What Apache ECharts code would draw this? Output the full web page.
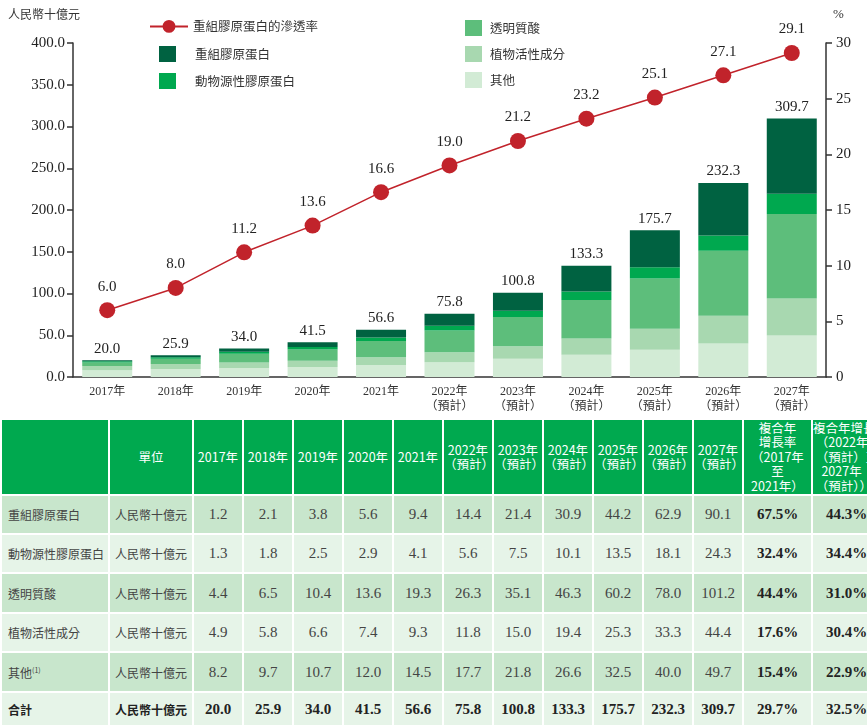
<!DOCTYPE html>
<html><head><meta charset="utf-8">
<script src="https://cdn.jsdelivr.net/npm/echarts@6/dist/echarts.min.js"></script>
<style>
html,body{margin:0;padding:0;background:#fff;width:867px;height:727px;overflow:hidden;}
#chart{position:absolute;left:0;top:0;width:867px;height:415px;}
#tblwrap{position:absolute;left:0;top:418px;width:867px;height:309px;overflow:hidden;}
table{border-collapse:collapse;table-layout:fixed;width:880px;}
td,th{border:2px solid #fff;padding:0;overflow:hidden;}
th{background:#00a94f;color:#fff;font-family:'Noto Sans CJK TC','Liberation Sans',sans-serif;font-weight:normal;font-size:12.5px;line-height:14.5px;height:74px;text-align:center;white-space:nowrap;}
td{font-family:'Liberation Serif','Noto Sans CJK TC',serif;font-size:15px;color:#444;text-align:center;white-space:nowrap;}
td.lab{font-family:'Noto Sans CJK TC',sans-serif;font-size:12px;text-align:left;padding-left:6px;color:#444;}
td.unit{font-family:'Noto Sans CJK TC',sans-serif;font-size:12px;color:#444;}
tr.odd td{background:#c8e6cc;}
tr.even td{background:#e6f4e8;}
td.b{font-weight:bold;color:#222;}
tr.tot td{font-weight:bold;color:#222;}
sup{font-size:7px;}
</style>
</head><body>
<div id="chart"></div>
<div id="tblwrap"><table id="tbl"></table></div>
<script>
const years = ['2017年','2018年','2019年','2020年','2021年','2022年\n（預計）','2023年\n（預計）','2024年\n（預計）','2025年\n（預計）','2026年\n（預計）','2027年\n（預計）'];
const recombinant = [1.2,2.1,3.8,5.6,9.4,14.4,21.4,30.9,44.2,62.9,90.1];
const animal = [1.3,1.8,2.5,2.9,4.1,5.6,7.5,10.1,13.5,18.1,24.3];
const hyaluronic = [4.4,6.5,10.4,13.6,19.3,26.3,35.1,46.3,60.2,78.0,101.2];
const botanical = [4.9,5.8,6.6,7.4,9.3,11.8,15.0,19.4,25.3,33.3,44.4];
const others = [8.2,9.7,10.7,12.0,14.5,17.7,21.8,26.6,32.5,40.0,49.7];
const totals = [20.0,25.9,34.0,41.5,56.6,75.8,100.8,133.3,175.7,232.3,309.7];
const penetration = [6.0,8.0,11.2,13.6,16.6,19.0,21.2,23.2,25.1,27.1,29.1];
const cagr1 = ['67.5%','32.4%','44.4%','17.6%','15.4%','29.7%'];
const cagr2 = ['44.3%','34.4%','31.0%','30.4%','22.9%','32.5%'];
const rowNames = ['重組膠原蛋白','動物源性膠原蛋白','透明質酸','植物活性成分','其他<sup>(1)</sup>','合計'];

const serif = "'Liberation Serif','Noto Sans CJK TC',serif";
const cjk = "'Noto Sans CJK TC',sans-serif";
const C = {rec:'#006241', ani:'#00a84f', hya:'#5dbe7b', bot:'#a8d8b0', oth:'#d2ebd5', line:'#c1232b'};

const chart = echarts.init(document.getElementById('chart'));
function barSeries(name, data, color, last){
  const s = {name, type:'bar', stack:'total', data, barWidth:50, itemStyle:{color}};
  if(last){
    s.label = {show:true, position:'top', distance:4, fontFamily:serif, fontSize:15, color:'#222',
      formatter:p=>totals[p.dataIndex].toFixed(1)};
  }
  return s;
}
const legendText = {fontFamily:cjk, fontSize:12.5, color:'#333'};
chart.setOption({
  animation:false,
  grid:{left:73, right:41, top:43, bottom:38},
  graphic:[
    {type:'text', left:8, top:8, style:{text:'人民幣十億元', font:"12px 'Noto Sans CJK TC'", fill:'#333'}},
    {type:'text', left:833, top:8, style:{text:'%', font:"13px 'Liberation Serif'", fill:'#333'}}
  ],
  legend:[
    {left:144, top:15, orient:'vertical', itemWidth:38, itemHeight:16, itemGap:11, textStyle:legendText,
      data:['重組膠原蛋白的滲透率']},
    {left:154, top:41, orient:'vertical', itemWidth:17, itemHeight:16, itemGap:11, icon:'rect',
      textStyle:Object.assign({padding:[0,0,0,14]},legendText),
      data:['重組膠原蛋白','動物源性膠原蛋白']},
    {left:460, top:15, orient:'vertical', itemWidth:17, itemHeight:16, itemGap:10, icon:'rect',
      textStyle:Object.assign({padding:[0,0,0,3]},legendText),
      data:['透明質酸','植物活性成分','其他']}
  ],
  xAxis:{type:'category', data:years,
    axisLine:{lineStyle:{color:'#333', width:1.5}}, axisTick:{show:false},
    axisLabel:{fontFamily:serif, fontSize:12, color:'#333', lineHeight:15, margin:7, interval:0}},
  yAxis:[
    {type:'value', min:0, max:400, interval:50, splitLine:{show:false},
      axisLine:{show:true, lineStyle:{color:'#333', width:1.5}},
      axisTick:{show:true, length:6, lineStyle:{color:'#333', width:1.5}},
      axisLabel:{fontFamily:serif, fontSize:15, color:'#222', margin:8, formatter:v=>v.toFixed(1)}},
    {type:'value', min:0, max:30, interval:5, splitLine:{show:false}, position:'right',
      axisLine:{show:true, lineStyle:{color:'#333', width:1.5}},
      axisTick:{show:true, length:6, lineStyle:{color:'#333', width:1.5}},
      axisLabel:{fontFamily:serif, fontSize:15, color:'#222', margin:10}}
  ],
  series:[
    barSeries('其他', others, C.oth),
    barSeries('植物活性成分', botanical, C.bot),
    barSeries('透明質酸', hyaluronic, C.hya),
    barSeries('動物源性膠原蛋白', animal, C.ani),
    barSeries('重組膠原蛋白', recombinant, C.rec, true),
    {name:'重組膠原蛋白的滲透率', type:'line', yAxisIndex:1, data:penetration, z:10,
      symbol:'circle', symbolSize:16, lineStyle:{color:C.line, width:1.5}, itemStyle:{color:C.line},
      label:{show:true, position:'top', distance:8, fontFamily:serif, fontSize:15, color:'#222', formatter:p=>p.value.toFixed(1)}}
  ]
});

// table
const series = [recombinant, animal, hyaluronic, botanical, others, totals];
let html = '<colgroup><col style="width:108px"><col style="width:84px">' + years.map(()=>'<col style="width:50px">').join('') + '<col style="width:69px"><col style="width:69px"></colgroup>';
html += '<tr><th></th><th>單位</th>' + years.map(y=>'<th>'+y.replace('\n','<br>')+'</th>').join('') +
  '<th>複合年<br>增長率<br>（2017年<br>至<br>2021年）</th><th style="text-align:left">複合年增長率<br>&nbsp;（2022年<br>&nbsp;（預計）至<br>&nbsp;&nbsp;&nbsp;2027年<br>&nbsp;（預計））</th></tr>';
const heights = [39,39,40,39,40,34];
series.forEach((arr,i)=>{
  const cls = (i%2===0?'odd':'even') + (i===5?' tot':'');
  html += '<tr class="'+cls+'" style="height:'+heights[i]+'px"><td class="lab">'+rowNames[i]+'</td><td class="unit">人民幣十億元</td>' +
    arr.map(v=>'<td>'+v.toFixed(1)+'</td>').join('') +
    '<td class="b">'+cagr1[i]+'</td><td class="b">'+cagr2[i]+'</td></tr>';
});
document.getElementById('tbl').innerHTML = html;
</script>
</body></html>
